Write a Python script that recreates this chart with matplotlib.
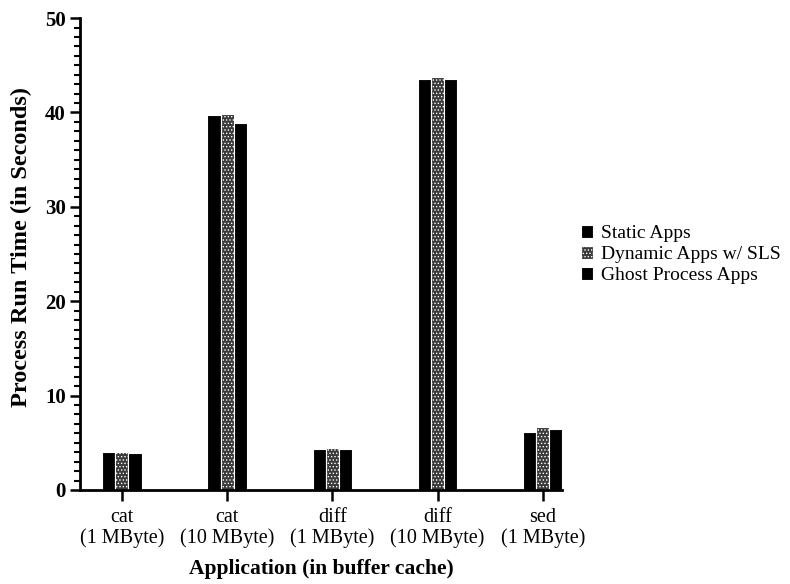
import numpy as np
import matplotlib
matplotlib.use('Agg')
import matplotlib.pyplot as plt
from matplotlib.ticker import MultipleLocator

plt.rcParams['font.family'] = ['Liberation Serif', 'DejaVu Serif']
plt.rcParams['hatch.linewidth'] = 0.6

apps = ['cat\n(1 MByte)', 'cat\n(10 MByte)', 'diff\n(1 MByte)', 'diff\n(10 MByte)', 'sed\n(1 MByte)']
static_apps = [4.0, 39.7, 4.3, 43.6, 6.1]
dynamic_apps = [4.0, 39.8, 4.4, 43.8, 6.7]
ghost_apps = [3.9, 38.9, 4.3, 43.5, 6.5]
series_names = ['Static Apps', 'Dynamic Apps w/ SLS', 'Ghost Process Apps']

x = np.arange(len(apps))
w = 0.125

fig = plt.figure(figsize=(7.9, 5.84), dpi=100)
ax = fig.add_axes([0.101, 0.161, 0.611, 0.808])

b1 = ax.bar(x - w, static_apps, w, color='black', edgecolor='white', linewidth=0.8)
b2 = ax.bar(x, dynamic_apps, w, color='#3a3a3a', edgecolor='white', linewidth=0.8, hatch='.....')
b3 = ax.bar(x + w, ghost_apps, w, color='black', edgecolor='white', linewidth=0.8)

ax.set_xlim(-0.4, x[-1] + 1.5 * w)
ax.set_ylim(0, 50)
ax.set_xticks(x)
ax.set_xticklabels(apps, fontsize=14.5, linespacing=1.1)
ax.yaxis.set_major_locator(MultipleLocator(10))
ax.yaxis.set_minor_locator(MultipleLocator(1))
for lbl in ax.get_yticklabels():
    lbl.set_fontweight('bold')
    lbl.set_fontsize(15)

for s in ['top', 'right']:
    ax.spines[s].set_visible(False)
for s in ['left', 'bottom']:
    ax.spines[s].set_linewidth(2)
ax.tick_params(axis='y', which='major', length=7, width=1.8, direction='out', pad=3)
ax.tick_params(axis='y', which='minor', length=4, width=1.5, direction='out')
ax.tick_params(axis='x', which='major', length=8, width=1.8, direction='out', pad=5)

ax.set_xlabel('Application (in buffer cache)', fontsize=15.5, fontweight='bold', labelpad=8)
ax.set_ylabel('Process Run Time (in Seconds)', fontsize=17.5, fontweight='bold')
ax.yaxis.set_label_coords(-0.099, 0.515)

fig.legend([b1, b2, b3], series_names, loc='center left', bbox_to_anchor=(0.713, 0.564),
           frameon=False, fontsize=14, handlelength=0.65, handleheight=0.65,
           handletextpad=0.4, labelspacing=0.2)

fig.savefig('out.png', dpi=100)
